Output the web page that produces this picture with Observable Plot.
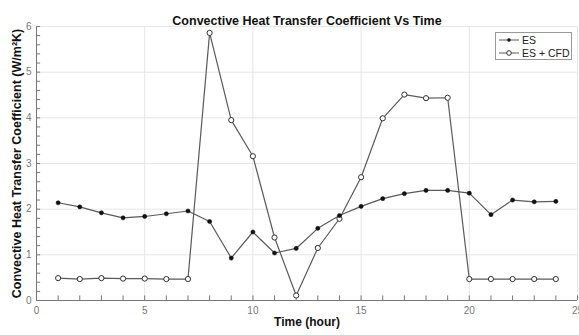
<!DOCTYPE html>
<html><head><meta charset="utf-8">
<script src="https://cdn.jsdelivr.net/npm/d3@7"></script>
<script src="https://cdn.jsdelivr.net/npm/@observablehq/plot@0.6"></script>
<style>
body{margin:0;background:#fff;font-family:"Liberation Sans",Arial,sans-serif;}
#wrap{position:relative;width:579px;height:335px;}
#legend{position:absolute;left:495px;top:32px;width:77px;height:28px;border:1px solid #999;background:#fff;font-size:10.5px;color:#222;box-sizing:border-box;}
#legend div{display:flex;align-items:center;height:12px;margin-top:1px;}
</style></head>
<body><div id="wrap"><div id="legend"></div></div>
<script>
const hours = d3.range(1, 25);
const es = [2.14,2.05,1.92,1.81,1.84,1.90,1.96,1.73,0.93,1.50,1.04,1.14,1.58,1.86,2.06,2.23,2.34,2.41,2.41,2.35,1.88,2.20,2.16,2.17];
const esCfd = [0.49,0.47,0.49,0.48,0.48,0.47,0.47,5.86,3.95,3.16,1.38,0.11,1.15,1.79,2.70,3.99,4.51,4.43,4.44,0.47,0.47,0.47,0.47,0.47];
const xMajor = [0,5,10,15,20,25];
const yMajor = [0,1,2,3,4,5,6];
const xMinor = d3.range(0, 26, 1);
const yMinor = d3.range(0, 31).map(i => i * 0.2);
const title = "Convective Heat Transfer Coefficient Vs Time";
const xLabel = "Time (hour)";
const yLabel = "Convective Heat Transfer Coefficient (W/m²K)";
const seriesNames = ["ES", "ES + CFD"];

const esData = hours.map((h, i) => ({h, v: es[i]}));
const cfdData = hours.map((h, i) => ({h, v: esCfd[i]}));
const lineColor = "#5a5a5a";

const chart = Plot.plot({
  width: 579, height: 335,
  marginLeft: 36, marginRight: 2, marginTop: 26, marginBottom: 35,
  style: {fontFamily: '"Liberation Sans", Arial, sans-serif', background: "#fff"},
  x: {domain: [0, 25]},
  y: {domain: [0, 6]},
  marks: [
    Plot.ruleX(xMajor, {stroke: "#e6e6e6", strokeWidth: 1}),
    Plot.ruleY(yMajor, {stroke: "#e6e6e6", strokeWidth: 1}),
    Plot.ruleX(xMinor, {y1: 0, y2: 0.1, stroke: "#777"}),
    Plot.ruleY(yMinor, {x1: 0, x2: 0.19, stroke: "#777"}),
    Plot.ruleX([0], {stroke: "#777"}),
    Plot.ruleY([0], {stroke: "#777"}),
    Plot.axisX({ticks: xMajor, tickSize: 0, tickPadding: 6, fontSize: 10, color: "#777", label: null, tickFormat: d3.format("d")}),
    Plot.axisY({ticks: yMajor, tickSize: 0, tickPadding: 5, fontSize: 10, color: "#777", label: null, tickFormat: d3.format("d")}),
    Plot.line(cfdData, {x: "h", y: "v", stroke: lineColor, strokeWidth: 1.2}),
    Plot.dot(cfdData, {x: "h", y: "v", r: 2.6, stroke: "#333", fill: "#fff", strokeWidth: 1}),
    Plot.line(esData, {x: "h", y: "v", stroke: lineColor, strokeWidth: 1.2}),
    Plot.dot(esData, {x: "h", y: "v", r: 2.1, fill: "#111", stroke: "#111", strokeWidth: 0.5}),
    Plot.text([title], {frameAnchor: "top", dy: -10, fontSize: 12.5, fontWeight: "bold", fill: "#111"}),
    Plot.text([xLabel], {frameAnchor: "bottom", dy: 25, fontSize: 12, fontWeight: "bold", fill: "#111"}),
    Plot.text([yLabel], {frameAnchor: "left", textAnchor: "middle", dx: -20, rotate: -90, fontSize: 12.5, fontWeight: "bold", fill: "#111"})
  ]
});
document.getElementById("wrap").prepend(chart);

const leg = d3.select("#legend");
seriesNames.forEach((name, i) => {
  const row = leg.append("div");
  const s = row.append("svg").attr("width", 26).attr("height", 12);
  s.append("line").attr("x1", 3).attr("x2", 23).attr("y1", 6).attr("y2", 6).attr("stroke", lineColor);
  if (i === 0) s.append("circle").attr("cx", 13).attr("cy", 6).attr("r", 1.8).attr("fill", "#111");
  else s.append("circle").attr("cx", 13).attr("cy", 6).attr("r", 2.3).attr("fill", "#fff").attr("stroke", "#333");
  row.append("span").text(name);
});
</script></body></html>
